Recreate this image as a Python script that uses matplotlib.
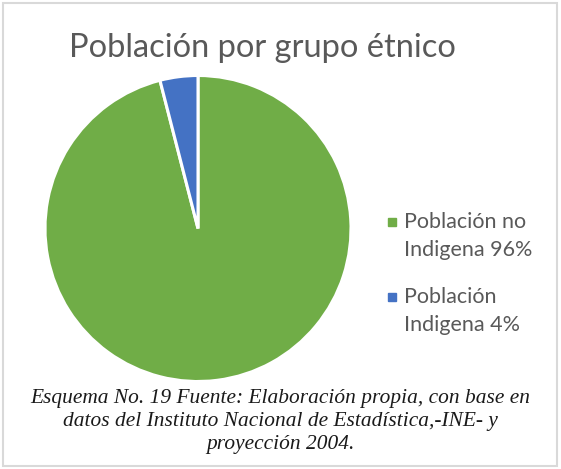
import matplotlib
matplotlib.use("Agg")
import matplotlib.pyplot as plt
from matplotlib.patches import Rectangle
from matplotlib.lines import Line2D

# Population shares by ethnic group (percent)
categories = ["Población no\nIndigena 96%", "Población\nIndigena 4%"]
shares = [96, 4]
colors = ["#70AD47", "#4472C4"]

title = "Población por grupo étnico"
caption_lines = [
    "Esquema No. 19 Fuente: Elaboración propia, con base en",
    "datos del Instituto Nacional de Estadística,-INE- y",
    "proyección 2004.",
]

W, H = 561, 469
fig = plt.figure(figsize=(W / 100, H / 100), dpi=100)
fig.patch.set_facecolor("white")


def fx(px):
    return px / W


def fy(py):
    return 1 - py / H


# outer frame
fig.patches.append(Rectangle((fx(3), 3 / H), (W - 7) / W, (H - 6) / H,
                             transform=fig.transFigure, fill=False,
                             edgecolor="#D9D9D9", linewidth=1.5))

# pie area
cx, cy, r = 198, 228.5, 153
ax = fig.add_axes([fx(cx - r), fy(cy + r), 2 * r / W, 2 * r / H])
ax.pie(shares, colors=colors, startangle=90, counterclock=False,
       wedgeprops=dict(edgecolor="white", linewidth=2.2))
ax.set_xlim(-1, 1)
ax.set_ylim(-1, 1)
ax.set_aspect("equal")
ax.axis("off")

fig.text(fx(262), fy(48), title, ha="center", va="center",
         fontsize=23.5, color="#595959", family="Lato")

# legend: square key aligned with the first line of each label
first_line_y = [222, 297]
for label, color, y0 in zip(categories, colors, first_line_y):
    fig.add_artist(Line2D([fx(392)], [fy(y0)], marker="s", linestyle="none",
                          markersize=6, markerfacecolor=color,
                          markeredgecolor=color, transform=fig.transFigure))
    fig.text(fx(404), fy(y0 + 14), label, ha="left", va="center",
             fontsize=15.5, family="Lato", color="#595959", linespacing=1.45)

for i, line in enumerate(caption_lines):
    fig.text(fx(280), fy(398 + 23 * i), line, ha="center", va="center",
             fontsize=15.4, style="italic", family="Liberation Serif",
             color="#1a1a1a")

fig.savefig("out.png", dpi=100)
